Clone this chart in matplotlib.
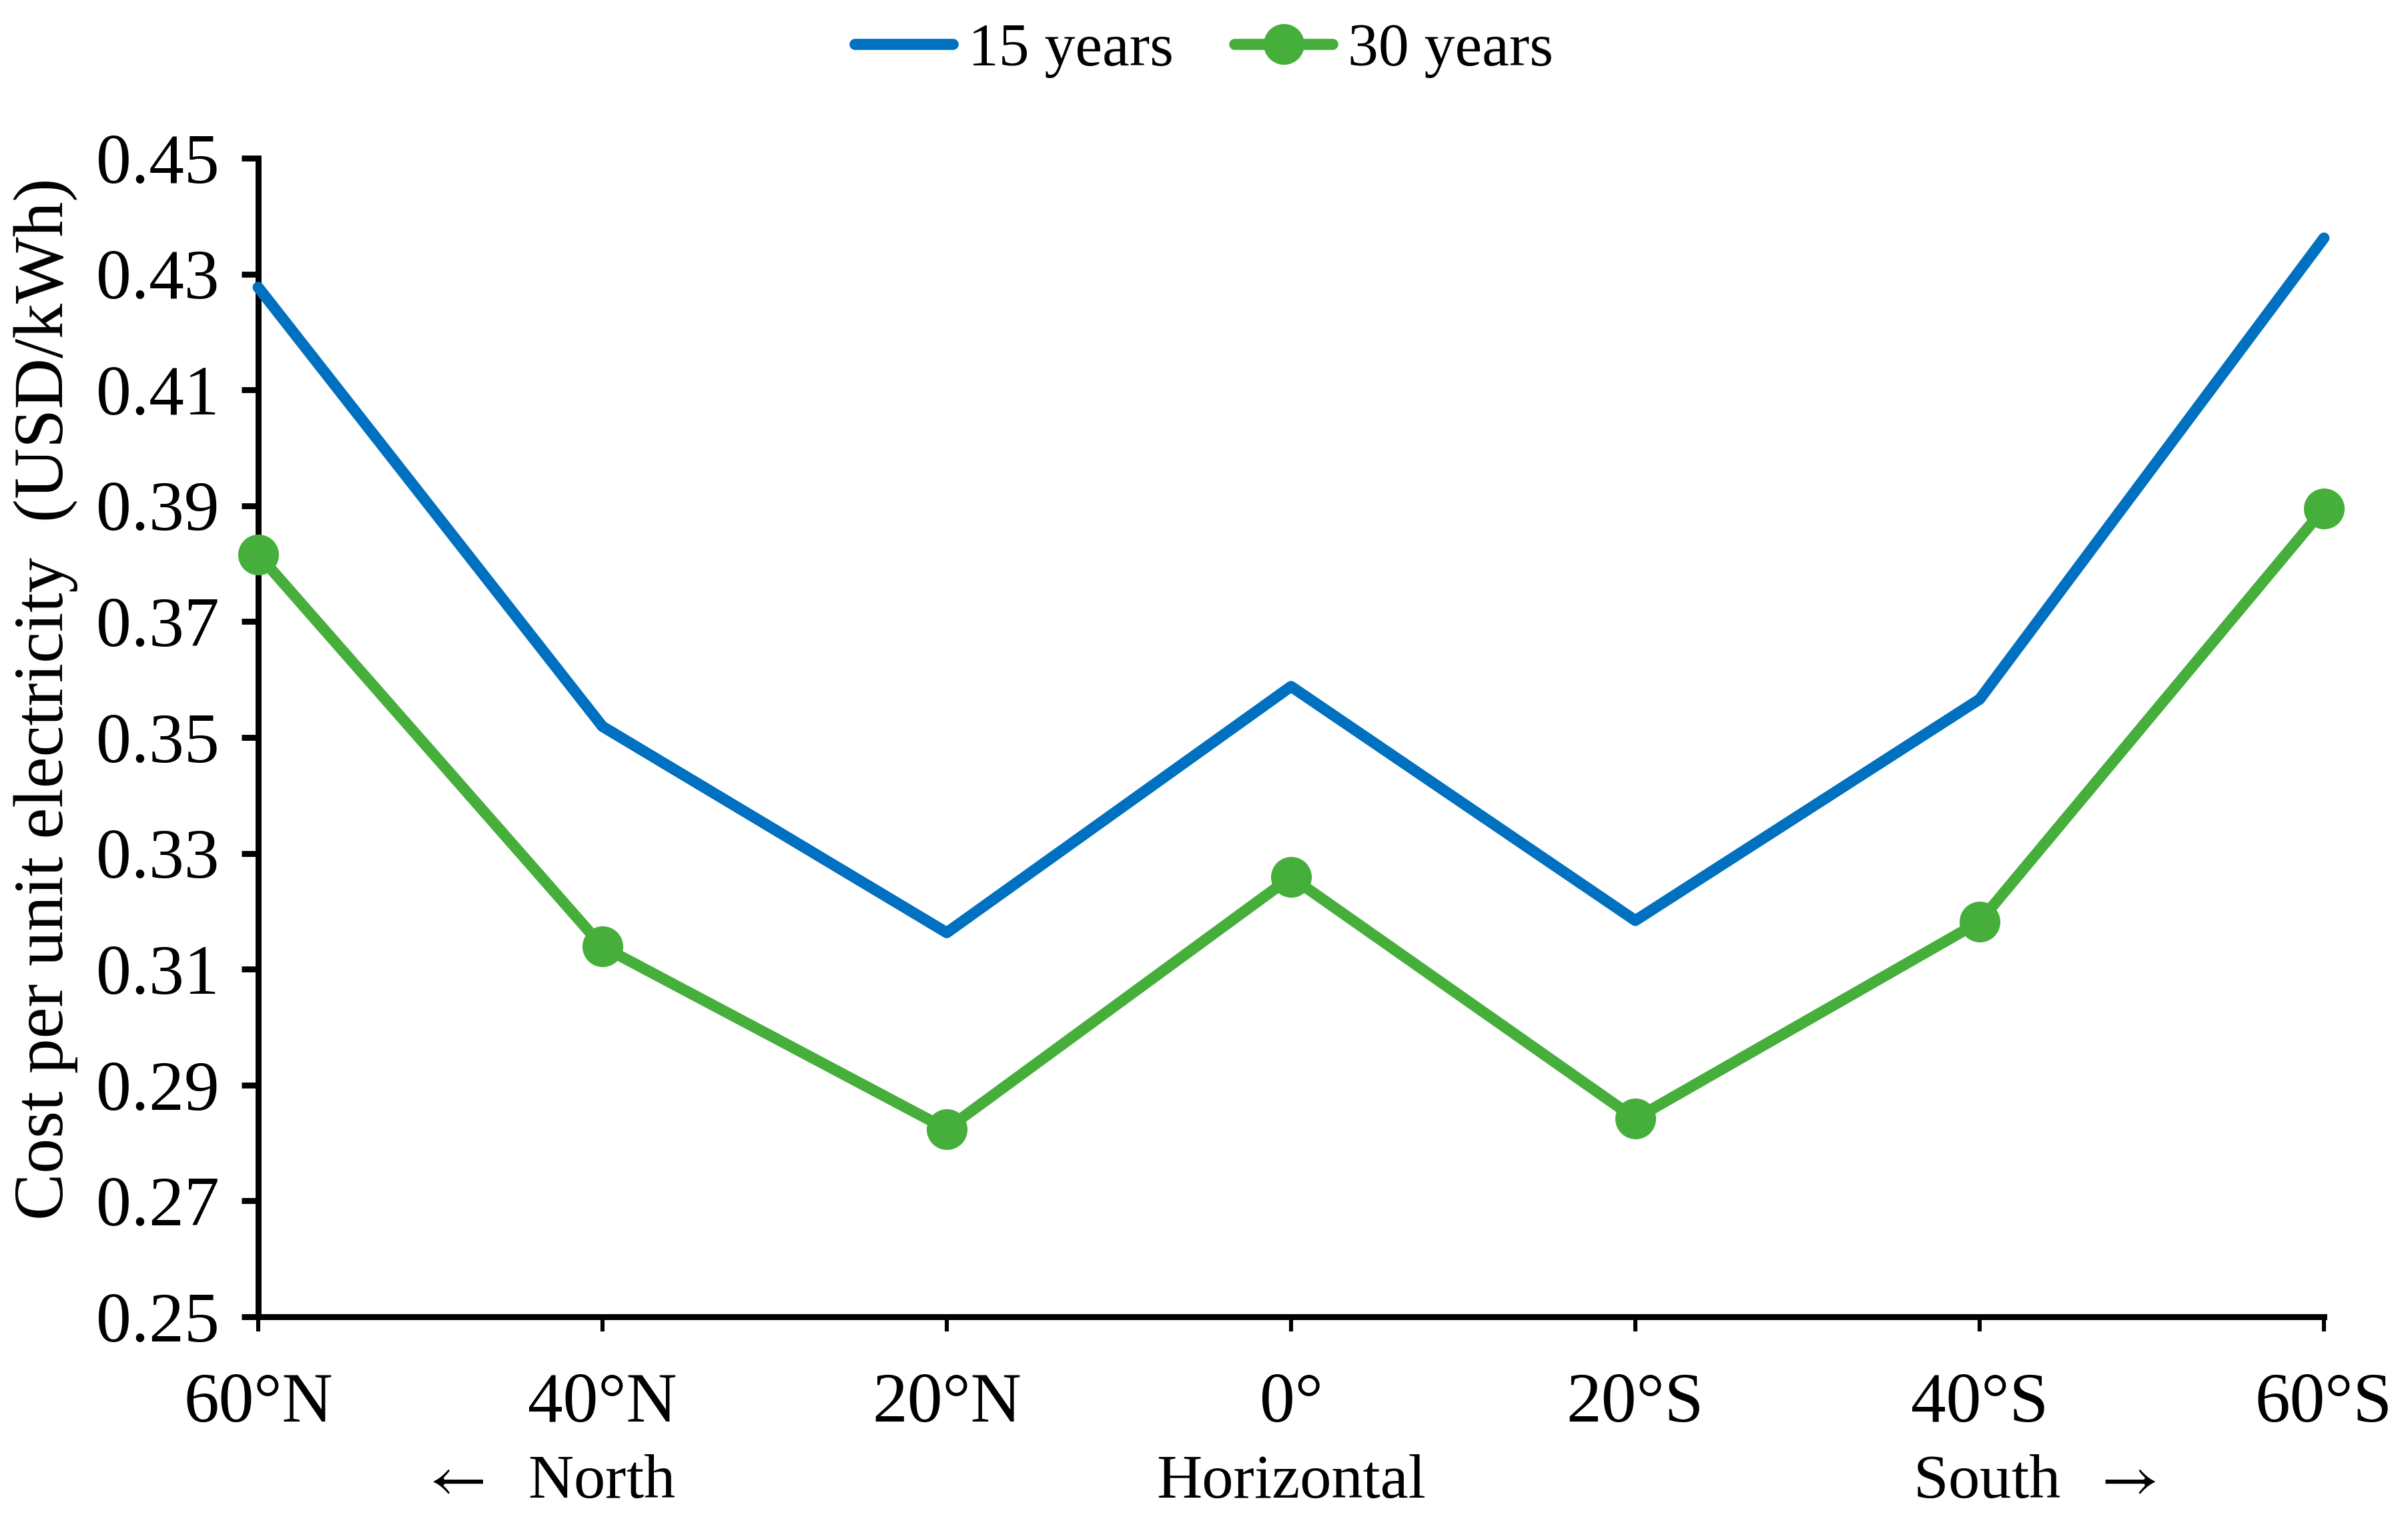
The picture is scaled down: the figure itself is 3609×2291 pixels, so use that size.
import matplotlib
matplotlib.use("Agg")
import matplotlib.pyplot as plt
from matplotlib.ticker import FormatStrFormatter

plt.rcParams["font.family"] = ["Liberation Serif", "DejaVu Serif"]
plt.rcParams["mathtext.fontset"] = "stix"

# data
angles = ["60°N", "40°N", "20°N", "0°", "20°S", "40°S", "60°S"]
cost_15y = [0.4277, 0.3519, 0.3163, 0.3588, 0.3184, 0.3566, 0.4362]
cost_30y = [0.3816, 0.3139, 0.2824, 0.3259, 0.2842, 0.3182, 0.3895]
yticks = [0.25, 0.27, 0.29, 0.31, 0.33, 0.35, 0.37, 0.39, 0.41, 0.43, 0.45]

BLUE = "#0070C0"
GREEN = "#46AF3C"
FS = 38

fig = plt.figure(figsize=(18.045, 11.455), dpi=200)
ax = fig.add_axes([0.1072, 0.1388, 0.8579, 0.7578])

x = list(range(len(angles)))
ax.plot(x, cost_15y, color=BLUE, lw=6.0, label="15 years", clip_on=False,
        solid_capstyle="round", zorder=3)
ax.plot(x, cost_30y, color=GREEN, lw=6.0, marker="o", markersize=21,
        label="30 years", clip_on=False, solid_capstyle="round", zorder=4)

ax.set_xlim(0, len(angles) - 1)
ax.set_ylim(0.25, 0.45)
ax.set_yticks(yticks)
ax.yaxis.set_major_formatter(FormatStrFormatter("%.2f"))
ax.set_xticks(x)
ax.set_xticklabels(angles)

for s in ("top", "right"):
    ax.spines[s].set_visible(False)
ax.spines["left"].set_linewidth(3.2)
ax.spines["bottom"].set_linewidth(3.2)
ax.tick_params(axis="y", direction="out", length=9, width=3.2, pad=12, labelsize=FS)
ax.tick_params(axis="x", direction="out", length=8, width=2.2, pad=22, labelsize=FS)

fig.text(0.019, 0.543, "Cost per unit electricity  (USD/kWh)", rotation=90,
         ha="center", va="center", fontsize=FS)

# direction hints under the axis
tr = ax.get_xaxis_transform()
ax.text(0.84, -0.143, r"$\leftarrow$  North", transform=tr, ha="center", va="center", fontsize=34)
ax.text(3.0, -0.143, "Horizontal", transform=tr, ha="center", va="center", fontsize=34)
ax.text(5.16, -0.143, r"South  $\rightarrow$", transform=tr, ha="center", va="center", fontsize=34)

fig.legend(loc="center", bbox_to_anchor=(0.5, 0.967), ncol=2, frameon=False,
           fontsize=33, handlelength=1.6, handletextpad=0.25, columnspacing=1.0)

fig.savefig("out.png", dpi=200)
